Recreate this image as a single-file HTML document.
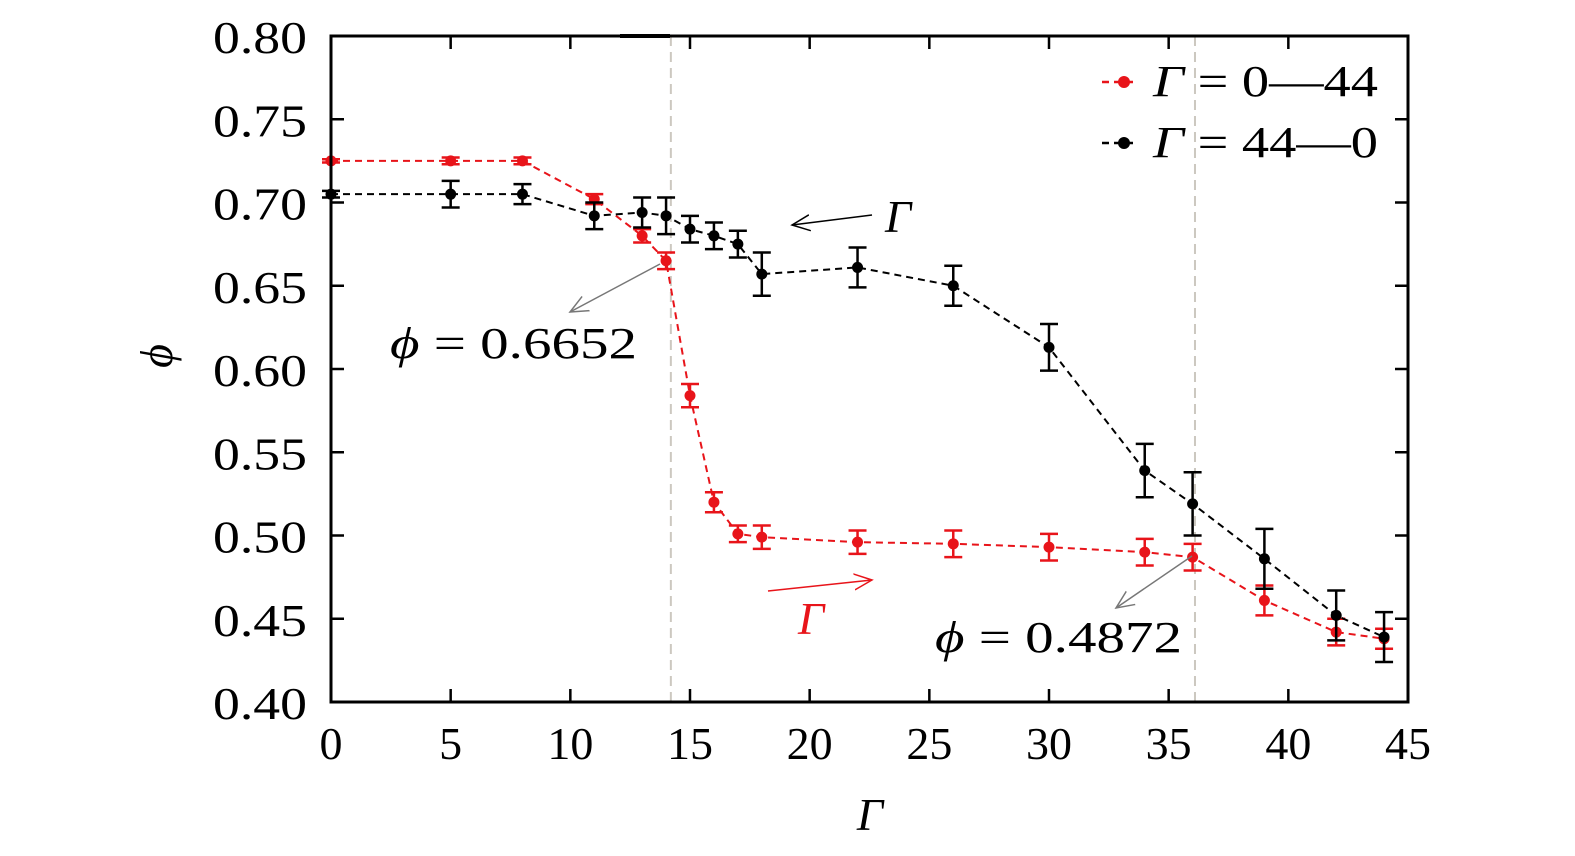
<!DOCTYPE html>
<html><head><meta charset="utf-8">
<style>
html,body{margin:0;padding:0;background:#fff;overflow:hidden;width:1575px;height:856px;}
svg{font-family:"Liberation Serif","DejaVu Serif",serif;}
</style></head>
<body>
<svg id="c" width="1575" height="856" viewBox="0 0 1575 856" style="position:absolute;left:0;top:0;"></svg>
<script>
const xTicks=[0,5,10,15,20,25,30,35,40,45];
const yTicks=[0.40,0.45,0.50,0.55,0.60,0.65,0.70,0.75,0.80];
const redX=[0,5,8,11,13,14,15,16,17,18,22,26,30,34,36,39,42,44];
const redY=[0.725,0.725,0.725,0.702,0.680,0.665,0.584,0.520,0.501,0.499,0.496,0.495,0.493,0.490,0.487,0.461,0.442,0.438];
const redErr=[0.001,0.002,0.002,0.003,0.004,0.005,0.007,0.006,0.005,0.007,0.007,0.008,0.008,0.008,0.008,0.009,0.008,0.006];
const blackX=[0,5,8,11,13,14,15,16,17,18,22,26,30,34,36,39,42,44];
const blackY=[0.705,0.705,0.705,0.692,0.694,0.692,0.684,0.680,0.675,0.657,0.661,0.650,0.613,0.539,0.519,0.486,0.452,0.439];
const blackErr=[0.002,0.008,0.006,0.008,0.009,0.011,0.008,0.008,0.008,0.013,0.012,0.012,0.014,0.016,0.019,0.018,0.015,0.015];
const vLines=[14.2,36.1];

const X0=331,X1=1408,Y0=702,Y1=36;
const X=v=>X0+(v-0)/(45-0)*(X1-X0);
const Y=v=>Y0-(v-0.4)/(0.8-0.4)*(Y0-Y1);
const svg=document.getElementById('c');
const NS='http://www.w3.org/2000/svg';
function mk(tag,attrs,parent){const e=document.createElementNS(NS,tag);for(const k in attrs)e.setAttribute(k,attrs[k]);(parent||svg).appendChild(e);return e;}

vLines.forEach((v,i)=>{
  const l=mk('line',{x1:X(v),x2:X(v),y1:Y1,y2:Y0,stroke:'#ccc8c0','stroke-width':2,'stroke-dasharray':'10,6'});
  
  
});

function series(xs,ys,es,color,name){
  const g=mk('g',{});
  
  
  const pts=xs.map((x,i)=>X(x)+','+Y(ys[i])).join(' ');
  const pl=mk('polyline',{points:pts,fill:'none',stroke:color,'stroke-width':2,'stroke-dasharray':'7,5'},g);
  
  
  xs.forEach((x,i)=>{
    const cx=X(x),top=Y(ys[i]+es[i]),bot=Y(ys[i]-es[i]);
    const eb=mk('path',{d:`M${cx},${top}V${bot}M${cx-9},${top}H${cx+9}M${cx-9},${bot}H${cx+9}`,stroke:color,'stroke-width':2.5,fill:'none'},g);
    
    
    const c=mk('circle',{cx:cx,cy:Y(ys[i]),r:5.5,fill:color},g);
    
    
  });
}
series(redX,redY,redErr,'#e8141a','series-0-44');
series(blackX,blackY,blackErr,'#000','series-44-0');

const fr=mk('rect',{x:X0,y:Y1,width:X1-X0,height:Y0-Y1,fill:'none',stroke:'#000','stroke-width':3});


mk('line',{x1:620,x2:670,y1:Y1,y2:Y1,stroke:'#000','stroke-width':4});

xTicks.forEach(v=>{
  mk('line',{x1:X(v),x2:X(v),y1:Y0,y2:Y0-13,stroke:'#000','stroke-width':2.5});
  mk('line',{x1:X(v),x2:X(v),y1:Y1,y2:Y1+13,stroke:'#000','stroke-width':2.5});
  const s=String(v);
  const t=mk('text',{x:X(v),y:Y0+57,'font-size':46,'text-anchor':'middle',textLength:s.length*23,lengthAdjust:'spacingAndGlyphs'});
  t.textContent=s;
  
  
});
yTicks.forEach(v=>{
  mk('line',{x1:X0,x2:X0+13,y1:Y(v),y2:Y(v),stroke:'#000','stroke-width':2.5});
  mk('line',{x1:X1,x2:X1-13,y1:Y(v),y2:Y(v),stroke:'#000','stroke-width':2.5});
  const t=mk('text',{x:307,y:Y(v)+17,'font-size':46,'text-anchor':'end',textLength:94,lengthAdjust:'spacingAndGlyphs'});
  t.textContent=v.toFixed(2);
  
  
});
</script>
<svg width="1575" height="856" style="position:absolute;left:0;top:0;">
<defs>
<marker id="ag" markerWidth="20" markerHeight="20" refX="18" refY="10" orient="auto" markerUnits="userSpaceOnUse"><path d="M0,2 L18,10 L0,18" fill="none" stroke="#777" stroke-width="1.5"/></marker>
<marker id="ak" markerWidth="20" markerHeight="20" refX="18" refY="10" orient="auto" markerUnits="userSpaceOnUse"><path d="M0,2 L18,10 L0,18" fill="none" stroke="#000" stroke-width="1.5"/></marker>
<marker id="ar" markerWidth="20" markerHeight="20" refX="18" refY="10" orient="auto" markerUnits="userSpaceOnUse"><path d="M0,2 L18,10 L0,18" fill="none" stroke="#e8141a" stroke-width="1.5"/></marker>
</defs>
<text x="870" y="830" font-size="46" font-style="italic" text-anchor="middle">Γ</text>
<text x="158" y="370" font-size="46" font-style="italic" text-anchor="middle" transform="rotate(-90 158 356)">ϕ</text>
<line x1="660" y1="264" x2="570" y2="312" stroke="#777" stroke-width="1.5" marker-end="url(#ag)"/>
<text x="390" y="358" font-size="44" textLength="247" lengthAdjust="spacingAndGlyphs"><tspan font-style="italic">ϕ</tspan> = 0.6652</text>
<line x1="1192" y1="556" x2="1116" y2="608" stroke="#777" stroke-width="1.5" marker-end="url(#ag)"/>
<text x="935" y="652" font-size="44" textLength="247" lengthAdjust="spacingAndGlyphs"><tspan font-style="italic">ϕ</tspan> = 0.4872</text>
<line x1="872" y1="215" x2="792" y2="225" stroke="#000" stroke-width="1.5" marker-end="url(#ak)"/>
<text x="885" y="232" font-size="46" font-style="italic">Γ</text>
<line x1="768" y1="591" x2="872" y2="580" stroke="#e8141a" stroke-width="1.5" marker-end="url(#ar)"/>
<text x="798" y="634" font-size="46" font-style="italic" fill="#e8141a">Γ</text>
<g>
<g>
<line x1="1102" y1="82" x2="1136" y2="82" stroke="#e8141a" stroke-width="2.5" stroke-dasharray="7,5"/>
<circle cx="1124" cy="82" r="6" fill="#e8141a"/>
<text x="1153" y="96" font-size="44" textLength="225" lengthAdjust="spacingAndGlyphs"><tspan font-style="italic">Γ</tspan> = 0—44</text>
</g>
<g>
<line x1="1102" y1="143" x2="1136" y2="143" stroke="#000" stroke-width="2.5" stroke-dasharray="7,5"/>
<circle cx="1124" cy="143" r="6" fill="#000"/>
<text x="1153" y="157" font-size="44" textLength="225" lengthAdjust="spacingAndGlyphs"><tspan font-style="italic">Γ</tspan> = 44—0</text>
</g>
</g>
</svg>
</body></html>
